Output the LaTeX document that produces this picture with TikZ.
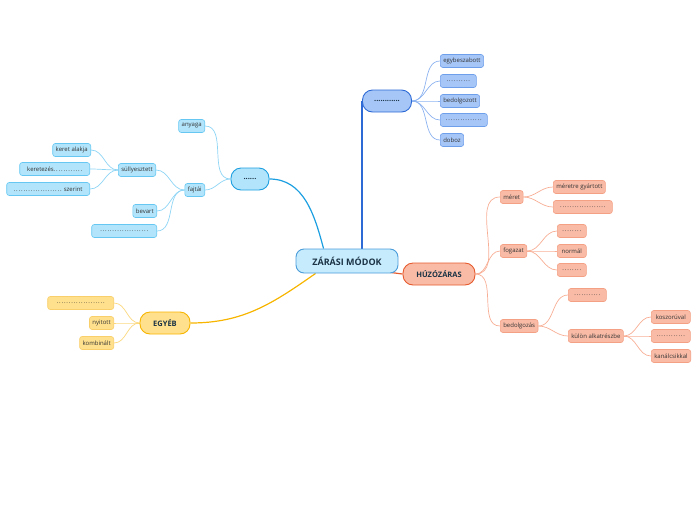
\documentclass[tikz,border=0pt]{standalone}
\usepackage{fontspec}
\setmainfont{Open Sans}
\newfontfamily\dotfont[LetterSpace=14]{Open Sans}
\usepackage{xcolor}
\usetikzlibrary{positioning, calc, backgrounds}

\definecolor{rootfill}{HTML}{C5EBFD}
\definecolor{rootline}{HTML}{4B9CD9}
\definecolor{bluefill}{HTML}{A6C6F7}
\definecolor{blueline}{HTML}{2E6AD6}
\definecolor{blueleaf}{HTML}{6E9FEA}
\definecolor{bluelink}{HTML}{8DB3F0}
\definecolor{cyanfill}{HTML}{B2E4FB}
\definecolor{cyanline}{HTML}{1C9FE0}
\definecolor{cyanleaf}{HTML}{66C8F2}
\definecolor{cyanlink}{HTML}{8ED5F5}
\definecolor{redfill}{HTML}{F9BBA6}
\definecolor{redline}{HTML}{E65B2E}
\definecolor{redleaf}{HTML}{F4A084}
\definecolor{redlink}{HTML}{F7AE95}
\definecolor{yelfill}{HTML}{FFE08C}
\definecolor{yelline}{HTML}{F7B500}
\definecolor{yelleaf}{HTML}{F8CF6A}
\definecolor{yellink}{HTML}{FBD87E}
\definecolor{darktext}{HTML}{1B3345}

\begin{document}
\begin{tikzpicture}[
    x=1pt, y=-1pt,
    root/.style={rectangle, rounded corners=8pt, fill=rootfill, draw=rootline, line width=0.9pt, minimum width=102pt, minimum height=24pt, font=\fontsize{9}{10}\selectfont\bfseries, text=darktext},
    main/.style={rectangle, rounded corners=10pt, fill=#1fill, draw=#1line, line width=0.9pt, minimum height=22pt, inner xsep=6pt, font=\fontsize{7.5}{9}\selectfont\bfseries, text=darktext},
    leaf/.style={rectangle, rounded corners=2.5pt, fill=#1fill, draw=#1leaf, line width=0.6pt, minimum height=13pt, inner xsep=3pt, inner ysep=1pt, font=\fontsize{6}{7}\selectfont, text=black!80},
    link/.style={#1link, line width=0.7pt},
    trunk/.style={#1line, line width=1.2pt}
]
\useasboundingbox (0,0) rectangle (696,520);

% ---- Root and main branches ----
\node[root] (root) at (347,261) {ZÁRÁSI MÓDOK};
\node[main=blue, minimum width=49pt] (form) at (387,101) {............};
\node[main=cyan, minimum width=38pt] (kind) at (250,179) {......};
\node[main=red, minimum width=72pt] (pull) at (439,274) {HÚZÓZÁRAS};
\node[main=yel, minimum width=50pt] (other) at (165,323) {EGYÉB};

% ---- Blue leaves ----
\node[leaf=blue, anchor=west] (egybe) at (440,61) {egybeszabott};
\node[leaf=blue, anchor=west, minimum width=36pt] (dotsA) at (440,81) {\dotfont ..........};
\node[leaf=blue, anchor=west] (bedolg) at (440,101) {bedolgozott};
\node[leaf=blue, anchor=west, minimum width=47pt] (dotsB) at (440,120) {\dotfont ...............};
\node[leaf=blue, anchor=west] (doboz) at (440,140) {doboz};

% ---- Cyan leaves ----
\node[leaf=cyan, anchor=east] (anyaga) at (205,126) {anyaga};
\node[leaf=cyan, anchor=east] (fajtai) at (205,190) {fajtái};
\node[leaf=cyan, anchor=east] (sully) at (156,170) {süllyesztett};
\node[leaf=cyan, anchor=east] (bevart) at (157,211) {bevart};
\node[leaf=cyan, anchor=east, minimum width=65pt] (dotsC) at (157,231) {\dotfont ....................};
\node[leaf=cyan, anchor=east] (keret) at (91,150) {keret alakja};
\node[leaf=cyan, anchor=east, minimum width=70pt] (keretez) at (90,169) {keretezés{\dotfont ............}};
\node[leaf=cyan, anchor=east, minimum width=83pt] (szerint) at (90,189) {{\dotfont ....................} szerint};

% ---- Yellow leaves ----
\node[leaf=yel, anchor=east, minimum width=66pt] (dotsD) at (114,303) {\dotfont ....................};
\node[leaf=yel, anchor=east] (nyitott) at (114,323) {nyitott};
\node[leaf=yel, anchor=east] (kombi) at (114,343) {kombinált};

% ---- Red leaves ----
\node[leaf=red, anchor=west] (meret) at (500,197) {méret};
\node[leaf=red, anchor=west] (fogazat) at (500,251) {fogazat};
\node[leaf=red, anchor=west] (bedolgozas) at (500,326) {bedolgozás};
\node[leaf=red, anchor=west] (meretre) at (553,187) {méretre gyártott};
\node[leaf=red, anchor=west, minimum width=59pt] (dotsE) at (553,207) {\dotfont ...................};
\node[leaf=red, anchor=west, minimum width=29pt] (fogA) at (557,231) {\dotfont ........};
\node[leaf=red, anchor=west, minimum width=29pt] (normal) at (557,251) {normál};
\node[leaf=red, anchor=west, minimum width=29pt] (fogB) at (557,270) {\dotfont ........};
\node[leaf=red, anchor=west, minimum width=38pt] (dotsF) at (568,295) {\dotfont ...........};
\node[leaf=red, anchor=west] (kulon) at (568,336) {külön alkatrészbe};
\node[leaf=red, anchor=west, minimum width=39pt] (koszoru) at (651,317) {koszorúval};
\node[leaf=red, anchor=west, minimum width=39pt] (dotsG) at (651,336) {\dotfont ............};
\node[leaf=red, anchor=west, minimum width=39pt] (kanal) at (651,356) {kanálcsikkal};

% ---- Connectors ----
\begin{scope}[on background layer]
\draw[trunk=blue] (form.west) -- (form.west |- root.north);
\draw[trunk=cyan] ($(root.north west)+(28,0)$) to[out=105, in=0] (kind.east);
\draw[trunk=yel] ($(root.south west)+(20,0)$) to[out=215, in=0] (other.east);
\draw[trunk=red] ($(root.south east)+(-8,-1)$) -- (pull.west);

\foreach \n in {egybe,dotsA,bedolg,dotsB,doboz}
    \draw[link=blue] (form.east) to[out=0, in=180] (\n.west);
\foreach \n in {anyaga,fajtai}
    \draw[link=cyan] (kind.west) to[out=180, in=0] (\n.east);
\foreach \n in {sully,bevart,dotsC}
    \draw[link=cyan] (fajtai.west) to[out=180, in=0] (\n.east);
\foreach \n in {keret,keretez,szerint}
    \draw[link=cyan] (sully.west) to[out=180, in=0] (\n.east);
\foreach \n in {dotsD,nyitott,kombi}
    \draw[link=yel] (other.west) to[out=180, in=0] (\n.east);
\foreach \n in {meret,fogazat,bedolgozas}
    \draw[link=red] (pull.east) to[out=0, in=180] (\n.west);
\foreach \n in {meretre,dotsE}
    \draw[link=red] (meret.east) to[out=0, in=180] (\n.west);
\foreach \n in {fogA,normal,fogB}
    \draw[link=red] (fogazat.east) to[out=0, in=180] (\n.west);
\foreach \n in {dotsF,kulon}
    \draw[link=red] (bedolgozas.east) to[out=0, in=180] (\n.west);
\foreach \n in {koszoru,dotsG,kanal}
    \draw[link=red] (kulon.east) to[out=0, in=180] (\n.west);
\end{scope}

\end{tikzpicture}
\end{document}
